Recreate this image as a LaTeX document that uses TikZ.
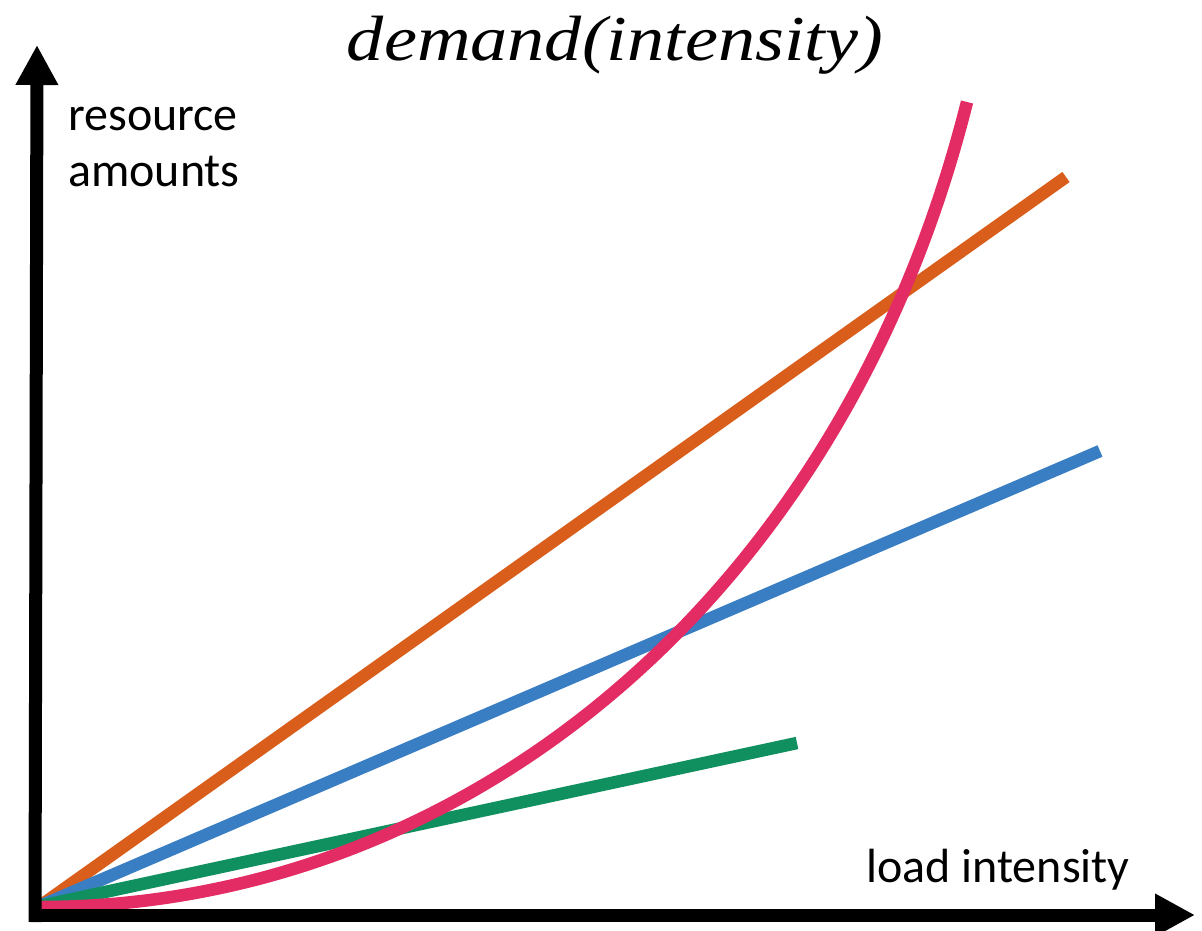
\documentclass[tikz,border=0pt]{standalone}
\usepackage{fontspec}
\setmainfont{Carlito}
\newfontfamily\titlefont{Liberation Serif}
\usetikzlibrary{arrows.meta}

\definecolor{curveorange}{RGB}{217,94,27}
\definecolor{curveblue}{RGB}{57,126,195}
\definecolor{curvegreen}{RGB}{17,144,95}
\definecolor{curvepink}{RGB}{226,44,99}

\tikzset{
  axisline/.style={line width=13pt, line cap=butt,
    -{Triangle[length=40pt,width=40pt]}},
  series/.style={line width=12.5pt, line cap=butt, line join=round},
  labeltext/.style={inner sep=0pt, font=\fontsize{48}{56}\selectfont},
}

\begin{document}
\begin{tikzpicture}[x=1pt,y=-1pt]
  \useasboundingbox (0,0) rectangle (1202,931);

  % origin and end points of the series
  \coordinate (o) at (40,906);
  \coordinate (ybot) at (35,922);
  \coordinate (ytop) at (37,45);
  \coordinate (xleft) at (29,915);
  \coordinate (xright) at (1195,915);
  \coordinate (orangeend) at (1066,177);
  \coordinate (blueend) at (1100,451);
  \coordinate (greenend) at (797,743);
  \coordinate (pinkstart) at (40,907);
  \coordinate (pinkend) at (967,102);

  % series
  \draw[series, curveorange] (o) -- (orangeend);
  \draw[series, curveblue] (o) -- (blueend);
  \draw[series, curvegreen] (o) -- (greenend);
  \draw[series, curvepink] (pinkstart)
    .. controls (462,907) and (842,600) .. (pinkend);

  % axes
  \draw[axisline] (ybot) -- (ytop);
  \draw[axisline] (xleft) -- (xright);

  % labels
  \node[labeltext, anchor=base west, align=left] (ylabel) at (68,186)
    {resource\\amounts};
  \node[labeltext, anchor=base west] (xlabel) at (866,882) {load intensity};
  \node[inner sep=0pt, anchor=base,
        font=\titlefont\itshape\fontsize{64}{68}\selectfont] (title)
    at (615,61) {\scalebox{1.16}[1]{demand(intensity)}};
\end{tikzpicture}
\end{document}
